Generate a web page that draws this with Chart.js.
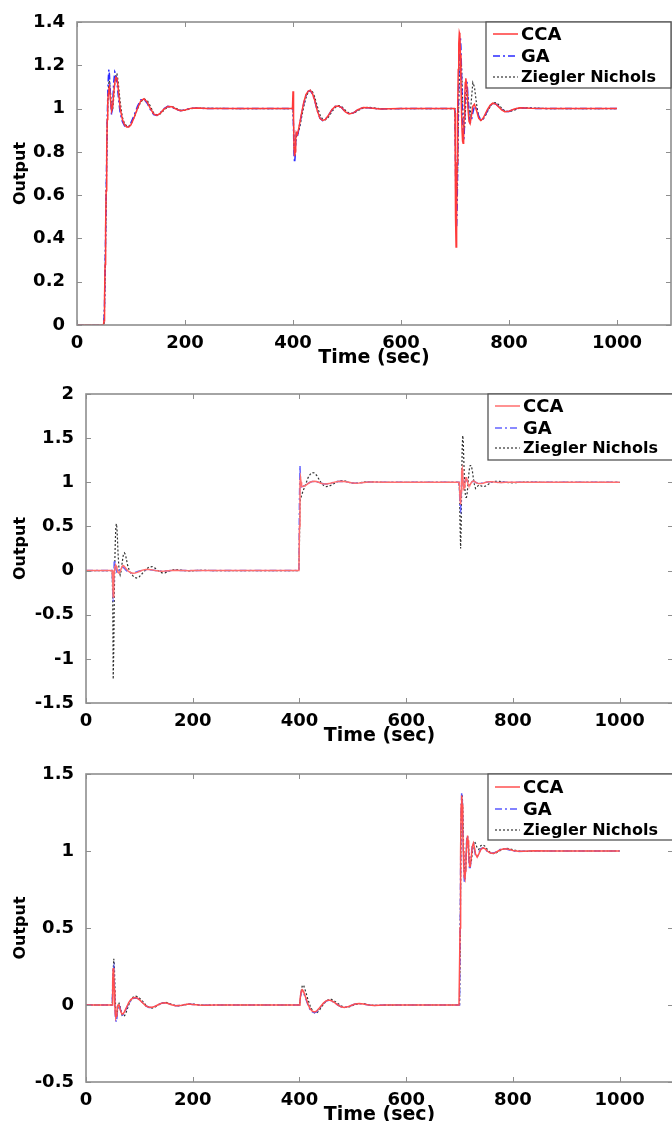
<!DOCTYPE html>
<html><head><meta charset="utf-8">
<script src="https://cdn.jsdelivr.net/npm/chart.js@4.4.1/dist/chart.umd.min.js"></script>
<style>
html,body{margin:0;padding:0;background:#fff;overflow:hidden;width:672px;height:1121px;}
.panel{position:absolute;left:0;}
</style></head><body>
<div class="panel" style="top:0px"><canvas id="c1" width="672" height="369"></canvas></div>
<div class="panel" style="top:372px"><canvas id="c2" width="674" height="375"></canvas></div>
<div class="panel" style="top:752px"><canvas id="c3" width="674" height="374"></canvas></div>
<script>
// ---- shared time axis (seconds) ----
const timeSec = [0,49,50,51,52,53,54,55,56,57,58,59,60,62,64,66,68,70,72,74,76,78,80,84,88,92,96,100,106,112,118,124,130,136,142,148,154,160,168,176,184,192,200,212,224,240,300,
399,400,401,402,403,404,405,406,408,410,413,416,420,424,428,432,436,440,445,450,455,460,466,472,478,484,490,497,504,512,520,530,540,560,600,
699,700,701,702,703,704,705,706,707,708,709,710,711,712,713,714,715,716,717,718,719,720,722,724,726,728,730,733,736,740,744,748,752,756,760,765,770,775,780,786,792,800,810,820,840,870,1000];

const xTicks = [0,200,400,600,800,1000];
const yTicks1 = [0,0.2,0.4,0.6,0.8,1,1.2,1.4];
const yTicks2 = [-1.5,-1,-0.5,0,0.5,1,1.5,2];
const yTicks3 = [-0.5,0,0.5,1,1.5];
const seriesNames = ['CCA','GA','Ziegler Nichols'];

// ---- panel 1 ----
const cca1 = [0,0,0.02,0.12,0.28,0.45,0.62,0.8,0.95,1.03,1.07,1.09,1.1,1.04,0.99,1.01,1.07,1.12,1.145,1.14,1.1,1.05,1.0,0.95,0.925,0.915,0.915,0.925,0.96,1.0,1.035,1.045,1.03,1.0,0.975,0.968,0.978,0.995,1.01,1.008,0.997,0.99,0.993,1.002,1.003,1.0,1.0,
1,1.08,0.95,0.82,0.78,0.8,0.86,0.89,0.88,0.9,0.94,0.98,1.03,1.065,1.08,1.085,1.07,1.04,0.99,0.955,0.945,0.95,0.97,0.995,1.01,1.012,1.005,0.985,0.975,0.98,0.995,1.005,1.004,0.998,1.0,
1,0.98,0.5,0.36,0.5,0.75,1.0,1.18,1.3,1.35,1.34,1.25,1.12,1.0,0.9,0.85,0.84,0.88,0.96,1.05,1.12,1.14,1.1,1.0,0.94,0.93,0.96,1.01,1.02,0.99,0.955,0.945,0.955,0.975,0.995,1.015,1.025,1.022,1.01,0.995,0.985,0.988,0.998,1.004,1.001,1.0,1.0];
const ga1 = [0,0,0.01,0.1,0.25,0.42,0.6,0.78,0.95,1.06,1.14,1.18,1.16,1.05,0.97,1.02,1.12,1.17,1.16,1.12,1.07,1.02,0.98,0.94,0.92,0.912,0.918,0.935,0.97,1.01,1.04,1.043,1.025,0.995,0.972,0.968,0.98,0.998,1.01,1.006,0.995,0.99,0.994,1.002,1.002,1.0,1.0,
1,1.02,0.9,0.78,0.75,0.78,0.85,0.88,0.87,0.895,0.935,0.975,1.025,1.06,1.08,1.083,1.068,1.04,0.99,0.955,0.944,0.95,0.97,0.994,1.01,1.012,1.004,0.985,0.976,0.98,0.994,1.004,1.004,0.998,1.0,
1,0.99,0.7,0.5,0.45,0.55,0.75,0.98,1.15,1.26,1.32,1.33,1.28,1.18,1.05,0.94,0.87,0.85,0.88,0.96,1.04,1.1,1.13,1.06,0.98,0.935,0.94,0.98,1.01,1.0,0.965,0.947,0.952,0.97,0.99,1.012,1.024,1.022,1.012,0.997,0.986,0.987,0.997,1.004,1.001,1.0,1.0];
const zn1 = [0,0,0,0.08,0.22,0.4,0.58,0.76,0.92,1.02,1.08,1.12,1.13,1.08,1.0,0.99,1.05,1.12,1.16,1.16,1.13,1.08,1.03,0.96,0.93,0.92,0.918,0.928,0.96,0.998,1.03,1.045,1.038,1.01,0.98,0.97,0.975,0.99,1.008,1.01,1.0,0.992,0.992,1.0,1.003,1.001,1.0,
1,1.0,0.92,0.82,0.79,0.8,0.84,0.87,0.88,0.89,0.92,0.96,1.01,1.05,1.075,1.085,1.078,1.055,1.01,0.97,0.95,0.948,0.962,0.985,1.005,1.014,1.01,0.992,0.978,0.978,0.99,1.003,1.006,1.0,1.0,
1,1.0,0.8,0.6,0.55,0.6,0.72,0.88,1.02,1.12,1.18,1.22,1.23,1.2,1.13,1.05,0.97,0.92,0.9,0.92,0.97,1.03,1.1,1.06,0.99,0.97,1.03,1.12,1.1,1.02,0.955,0.945,0.95,0.965,0.985,1.008,1.026,1.028,1.02,1.003,0.99,0.985,0.993,1.003,1.003,1.0,1.0];

// ---- panel 2 ----
const cca2 = [0,0,-0.1,-0.3,-0.15,0.0,0.04,0.05,0.06,0.05,0.02,0.0,-0.02,-0.03,-0.01,0.02,0.05,0.055,0.045,0.03,0.015,0.0,-0.01,-0.025,-0.03,-0.028,-0.02,-0.01,0.005,0.012,0.013,0.008,0.0,-0.006,-0.008,-0.006,-0.002,0.002,0.003,0.002,0,-0.001,0,0,0,0,0,
0,0.5,1.0,1.05,1.0,0.96,0.95,0.95,0.955,0.96,0.97,0.985,1.0,1.01,1.012,1.008,1.0,0.99,0.982,0.98,0.985,0.993,1.002,1.01,1.012,1.01,1.003,0.995,0.99,0.992,0.998,1.003,1.003,1.0,1.0,
1,0.95,0.8,0.75,0.9,1.12,1.15,1.08,0.98,0.93,0.94,0.98,1.03,1.05,1.05,1.03,1.0,0.98,0.965,0.96,0.965,0.975,0.995,1.01,1.015,1.01,1.0,0.99,0.985,0.985,0.99,0.997,1.003,1.006,1.006,1.003,0.999,0.997,0.998,1.0,1.001,1.001,1.0,1.0,1.0,1.0,1.0];
const ga2 = [0,0,-0.15,-0.35,-0.1,0.12,0.1,0.05,0.02,0.0,-0.02,-0.03,-0.02,0.0,0.02,0.03,0.04,0.035,0.025,0.01,0.0,-0.01,-0.02,-0.025,-0.025,-0.02,-0.012,-0.005,0.005,0.01,0.01,0.005,0.0,-0.005,-0.006,-0.004,-0.001,0.002,0.003,0.002,0,-0.001,0,0,0,0,0,
0,0.8,1.19,1.0,0.94,0.93,0.94,0.95,0.96,0.965,0.975,0.988,1.0,1.008,1.01,1.006,0.999,0.99,0.983,0.98,0.985,0.993,1.002,1.009,1.011,1.009,1.003,0.995,0.99,0.992,0.998,1.003,1.002,1.0,1.0,
1,0.9,0.7,0.68,0.85,1.05,1.1,1.05,0.97,0.93,0.95,0.99,1.03,1.04,1.03,1.01,0.99,0.975,0.97,0.97,0.975,0.985,1.0,1.01,1.012,1.008,1.0,0.992,0.988,0.988,0.992,0.998,1.003,1.005,1.005,1.002,0.999,0.998,0.999,1.0,1.001,1.0,1.0,1.0,1.0,1.0,1.0];
const zn2 = [0,0,-0.3,-1.23,-0.9,-0.3,0.1,0.35,0.5,0.53,0.48,0.35,0.2,0.0,-0.05,0.0,0.1,0.18,0.2,0.18,0.12,0.06,0.02,-0.03,-0.06,-0.08,-0.085,-0.07,-0.03,0.01,0.04,0.045,0.025,-0.005,-0.025,-0.025,-0.01,0.005,0.012,0.008,0.0,-0.004,-0.003,0.002,0.002,0.0,0,
0,0.3,0.75,0.82,0.83,0.85,0.87,0.89,0.92,0.95,1.0,1.05,1.09,1.11,1.105,1.08,1.04,1.0,0.965,0.95,0.955,0.97,0.99,1.01,1.02,1.018,1.005,0.99,0.988,0.993,1.003,1.006,1.003,0.999,1.0,
1,0.9,0.5,0.25,0.5,1.0,1.4,1.53,1.45,1.25,1.05,0.92,0.86,0.83,0.83,0.86,0.92,1.0,1.07,1.13,1.17,1.19,1.19,1.13,1.04,0.97,0.93,0.95,0.97,0.96,0.95,0.955,0.97,0.985,1.0,1.01,1.012,1.01,1.005,1.0,0.995,0.994,0.998,1.002,1.001,1.0,1.0];

// ---- panel 3 ----
const cca3 = [0,0,0.15,0.24,0.2,0.1,0.0,-0.06,-0.08,-0.07,-0.04,-0.01,0.0,0.0,-0.03,-0.05,-0.06,-0.055,-0.045,-0.03,-0.015,0.0,0.015,0.035,0.045,0.048,0.045,0.035,0.015,-0.005,-0.015,-0.015,-0.008,0.003,0.012,0.015,0.01,0.002,-0.005,-0.004,0.002,0.006,0.004,0.0,-0.001,0,0,
0,0.0,0.03,0.06,0.085,0.095,0.1,0.097,0.085,0.065,0.035,0.005,-0.025,-0.04,-0.045,-0.04,-0.025,-0.008,0.012,0.027,0.032,0.028,0.015,0.0,-0.012,-0.016,-0.012,-0.003,0.006,0.01,0.006,0.0,-0.003,0.0,0,
0,0.0,0.5,1.0,1.3,1.36,1.3,1.15,1.0,0.9,0.83,0.82,0.87,0.95,1.03,1.08,1.1,1.07,1.0,0.93,0.9,0.9,0.96,1.03,1.05,1.02,0.98,0.96,0.98,1.01,1.02,1.015,1.0,0.99,0.985,0.985,0.995,1.005,1.012,1.015,1.012,1.003,0.998,0.998,1.001,1.0,1.0];
const ga3 = [0,0,0.12,0.22,0.24,0.15,0.02,-0.07,-0.1,-0.11,-0.08,-0.04,-0.01,0.0,-0.02,-0.05,-0.065,-0.06,-0.05,-0.035,-0.02,-0.005,0.01,0.03,0.042,0.046,0.044,0.035,0.015,-0.005,-0.016,-0.016,-0.008,0.003,0.012,0.014,0.01,0.002,-0.005,-0.004,0.002,0.006,0.004,0.0,-0.001,0,0,
0,0,0.025,0.055,0.08,0.09,0.093,0.09,0.078,0.058,0.03,0.0,-0.03,-0.045,-0.05,-0.045,-0.03,-0.012,0.01,0.025,0.03,0.027,0.015,0.0,-0.012,-0.016,-0.012,-0.003,0.006,0.009,0.006,0.0,-0.003,0,0,
0,0,0.4,0.9,1.25,1.38,1.35,1.2,1.02,0.88,0.8,0.8,0.86,0.96,1.05,1.1,1.1,1.05,0.97,0.91,0.88,0.89,0.97,1.04,1.05,1.01,0.97,0.96,0.985,1.015,1.02,1.012,0.998,0.988,0.985,0.988,0.998,1.008,1.014,1.014,1.008,1.0,0.997,0.999,1.001,1.0,1.0];
const zn3 = [0,0,0.1,0.22,0.3,0.27,0.15,0.03,-0.05,-0.08,-0.07,-0.04,-0.01,0.01,-0.01,-0.04,-0.07,-0.075,-0.07,-0.06,-0.04,-0.02,0.0,0.03,0.05,0.058,0.055,0.045,0.025,0.0,-0.015,-0.02,-0.012,0.0,0.012,0.018,0.014,0.005,-0.004,-0.006,0.0,0.006,0.006,0.001,-0.002,0,0,
0,0,0.02,0.05,0.08,0.105,0.12,0.13,0.125,0.105,0.07,0.035,-0.005,-0.035,-0.05,-0.052,-0.04,-0.02,0.005,0.025,0.036,0.036,0.025,0.01,-0.005,-0.015,-0.016,-0.008,0.003,0.01,0.009,0.002,-0.003,-0.001,0,
0,0,0.3,0.8,1.2,1.35,1.37,1.28,1.12,0.97,0.87,0.84,0.87,0.93,1.0,1.05,1.08,1.07,1.03,0.97,0.93,0.91,0.93,0.99,1.04,1.06,1.05,1.02,1.01,1.035,1.04,1.03,1.01,0.995,0.985,0.982,0.99,1.0,1.01,1.018,1.016,1.008,1.0,0.997,1.0,1.0,1.0];

const FONT = "'DejaVu Sans', sans-serif";

const framePlugin = {
  id: 'frameLegend',
  afterDraw(chart, args, opts) {
    const {ctx, chartArea: a, scales} = chart;
    ctx.save();
    ctx.strokeStyle = '#8e8e8e';
    ctx.lineWidth = 1;
    ctx.beginPath();
    scales.x.ticks.forEach(t => {
      const px = Math.round(scales.x.getPixelForValue(t.value)) + 0.5;
      ctx.moveTo(px, a.bottom); ctx.lineTo(px, a.bottom - 5);
      ctx.moveTo(px, a.top); ctx.lineTo(px, a.top + 5);
    });
    scales.y.ticks.forEach(t => {
      const py = Math.round(scales.y.getPixelForValue(t.value)) + 0.5;
      ctx.moveTo(a.left, py); ctx.lineTo(a.left + 5, py);
      ctx.moveTo(a.right, py); ctx.lineTo(a.right - 5, py);
    });
    ctx.stroke();
    ctx.lineWidth = 1.6;
    ctx.strokeRect(a.left, a.top, a.right - a.left, a.bottom - a.top);
    // legend box
    const w = opts.width, h = opts.height;
    const lx = a.right - w, ly = a.top;
    ctx.fillStyle = '#fff';
    ctx.fillRect(lx, ly, w, h);
    ctx.strokeStyle = '#555';
    ctx.lineWidth = 1.3;
    ctx.strokeRect(lx, ly, w, h);
    chart.data.datasets.forEach((ds, i) => {
      const y = ly + opts.rows[i];
      ctx.strokeStyle = ds.borderColor;
      ctx.lineWidth = ds.borderWidth;
      ctx.setLineDash(ds.borderDash || []);
      ctx.beginPath(); ctx.moveTo(lx + 7, y); ctx.lineTo(lx + 32, y); ctx.stroke();
      ctx.setLineDash([]);
      ctx.fillStyle = '#000';
      ctx.font = opts.fonts[i];
      ctx.textBaseline = 'middle';
      ctx.textAlign = 'left';
      ctx.fillText(ds.label, lx + 35, y + 1);
    });
    ctx.restore();
  }
};

function pts(arr) { return timeSec.map((t, i) => ({x: t, y: arr[i]})); }

function makeChart(id, series, yTicks, yMin, yMax, yWidth, colors, legendRows) {
  const styles = [
    {borderColor: colors[0], borderWidth: 1.5, borderDash: []},
    {borderColor: colors[1], borderWidth: 1.5, borderDash: [7,3,2,3]},
    {borderColor: colors[2], borderWidth: 1.2, borderDash: [2,2]}
  ];
  new Chart(document.getElementById(id), {
    type: 'line',
    data: {
      datasets: series.map((s, i) => Object.assign({
        label: seriesNames[i], data: pts(s), pointRadius: 0, tension: 0, fill: false
      }, styles[i]))
    },
    options: {
      responsive: false, animation: false, devicePixelRatio: 1,
      layout: {padding: {top: 22, right: 1, left: 0, bottom: 0}},
      plugins: {legend: {display: false}, tooltip: {enabled: false},
        frameLegend: {width: 185, height: 66, rows: legendRows,
          fonts: ['bold 18px ' + FONT, 'bold 18px ' + FONT, 'bold 16px ' + FONT]}},
      scales: {
        x: {
          type: 'linear', min: 0, max: 1100,
          afterBuildTicks: s => { s.ticks = xTicks.map(v => ({value: v})); },
          afterFit: s => { s.height = 44; },
          grid: {display: false}, border: {display: false},
          ticks: {color: '#000', font: {family: FONT, weight: 'bold', size: 18}, padding: 0, maxRotation: 0, autoSkip: false, callback: v => String(v)},
          title: {display: true, text: 'Time (sec)', color: '#000', font: {family: FONT, weight: 'bold', size: 19}, padding: {top: 0, bottom: 0}}
        },
        y: {
          type: 'linear', min: yMin, max: yMax,
          afterBuildTicks: s => { s.ticks = yTicks.map(v => ({value: v})); },
          afterFit: s => { s.width = yWidth; },
          grid: {display: false}, border: {display: false},
          ticks: {color: '#000', font: {family: FONT, weight: 'bold', size: 18}, padding: 4, callback: v => String(v)},
          title: {display: true, text: 'Output', color: '#000', font: {family: FONT, weight: 'bold', size: 16}, padding: {top: 11, bottom: 0}}
        }
      }
    },
    plugins: [framePlugin]
  });
}

makeChart('c1', [cca1, ga1, zn1], yTicks1, 0, 1.4, 77, ['#ff3a3a', '#2a2aff', '#333333'], [12, 34, 55]);
makeChart('c2', [cca2, ga2, zn2], yTicks2, -1.5, 2, 86, ['#ff6e6e', '#6464ff', '#333333'], [12, 34, 54]);
makeChart('c3', [cca3, ga3, zn3], yTicks3, -0.5, 1.5, 86, ['#ff5050', '#5a5aff', '#333333'], [13, 35, 56]);
</script>
</body></html>
